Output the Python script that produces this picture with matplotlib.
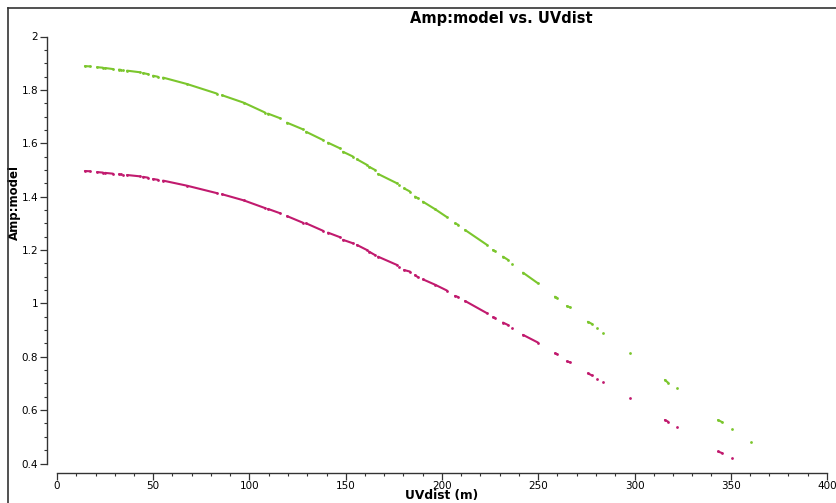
import numpy as np
import matplotlib
matplotlib.use("Agg")
from matplotlib import pyplot as plt
from matplotlib.lines import Line2D
from matplotlib.ticker import MultipleLocator, FuncFormatter

# uvdist segments (m) and model amplitudes
uv_segments = [
    [14.5, 17.1], [20.8, 23.9], [24.9, 29.1], [32.2, 33.2], [34.5],
    [36.4, 43.1], [44.7, 47.3], [49.9, 52.5], [55.1, 67.5, 83.1],
    [85.7, 97.0, 108.1], [109.6, 115.8], [119.5, 127.8], [129.4, 138.2],
    [140.8, 147.0], [148.6, 153.8], [155.8, 161.0], [162.1, 165.2],
    [166.8, 176.6], [177.7], [180.3, 183.4], [186.0, 187.5],
    [190.1, 196.4, 202.6], [206.8, 208.3], [212.0, 223.4], [226.5, 227.5],
    [231.7, 234.3], [236.6], [242.1, 249.9], [258.7, 259.7], [264.9, 266.5],
    [275.8, 277.9], [280.5], [283.6], [297.7], [315.8, 317.4], [322.1],
    [343.4, 345.5], [350.6], [360.5],
]

amp_green = [
    [1.889, 1.888], [1.885, 1.883], [1.882, 1.878], [1.876, 1.875], [1.874],
    [1.872, 1.866], [1.863, 1.859], [1.853, 1.849], [1.846, 1.822, 1.786],
    [1.780, 1.752, 1.715], [1.711, 1.694], [1.677, 1.652], [1.643, 1.612],
    [1.602, 1.581], [1.568, 1.550], [1.540, 1.519], [1.512, 1.500],
    [1.485, 1.450], [1.444], [1.431, 1.419], [1.400, 1.394],
    [1.381, 1.353, 1.323], [1.300, 1.295], [1.275, 1.219], [1.200, 1.196],
    [1.175, 1.163], [1.147], [1.115, 1.075], [1.025, 1.021], [0.990, 0.985],
    [0.931, 0.923], [0.906], [0.890], [0.813], [0.713, 0.703], [0.682],
    [0.563, 0.555], [0.529], [0.480],
]

amp_magenta = [
    [1.496, 1.495], [1.492, 1.490], [1.489, 1.486], [1.484, 1.483], [1.482],
    [1.481, 1.476], [1.474, 1.471], [1.466, 1.463], [1.460, 1.441, 1.413],
    [1.409, 1.386, 1.357], [1.354, 1.338], [1.327, 1.302], [1.300, 1.272],
    [1.265, 1.248], [1.238, 1.225], [1.219, 1.200], [1.194, 1.181],
    [1.175, 1.144], [1.135], [1.125, 1.119], [1.106, 1.098],
    [1.090, 1.070, 1.048], [1.028, 1.024], [1.009, 0.963], [0.948, 0.946],
    [0.928, 0.919], [0.907], [0.882, 0.853], [0.813, 0.810], [0.783, 0.779],
    [0.738, 0.730], [0.717], [0.704], [0.645], [0.563, 0.557], [0.538],
    [0.445, 0.439], [0.420], [np.nan],
]

green = "#7bc62d"
magenta = "#c11a6e"

fig = plt.figure(figsize=(8.36, 5.03), dpi=100)
ax = fig.add_axes([57 / 836, (503 - 463.5) / 503, 770 / 836, 427 / 503])

for xs, yg, ym in zip(uv_segments, amp_green, amp_magenta):
    ax.plot(xs, yg, "-", color=green, lw=1.5, marker="o", ms=2.0, mew=0,
            solid_capstyle="round")
    ax.plot(xs, ym, "-", color=magenta, lw=1.5, marker="o", ms=2.0, mew=0,
            solid_capstyle="round")

ax.set_xlim(0, 400)
ax.set_ylim(0.4, 2)

for s in ["top", "right"]:
    ax.spines[s].set_visible(False)
ax.spines["left"].set_position(("outward", 7))
ax.spines["bottom"].set_position(("outward", 7))
ax.spines["left"].set_bounds(0.4, 2)
ax.spines["bottom"].set_bounds(0, 400)
for s in ["left", "bottom"]:
    ax.spines[s].set_color("#333333")
    ax.spines[s].set_linewidth(1.0)

ax.xaxis.set_major_locator(MultipleLocator(50))
ax.xaxis.set_minor_locator(MultipleLocator(10))
ax.yaxis.set_major_locator(MultipleLocator(0.2))
ax.yaxis.set_minor_locator(MultipleLocator(0.05))
ax.yaxis.set_major_formatter(FuncFormatter(lambda v, p: ("%.1f" % v).rstrip("0").rstrip(".")))

ax.tick_params(axis="both", which="major", length=5, width=0.9, color="#333333", direction="out")
ax.tick_params(axis="both", which="minor", length=2.5, width=0.8, color="#333333", direction="out")
ax.tick_params(axis="y", which="major", labelsize=7.5, pad=1.5)
ax.tick_params(axis="x", which="major", labelsize=7.5, pad=0.5)

ax.set_xlabel("UVdist (m)", fontsize=8.8, fontweight="bold")
ax.xaxis.set_label_coords(0.5, -(496 - 463.5) / 427)
ax.xaxis.label.set_va("center")
ax.set_ylabel("Amp:model", fontsize=8.5, fontweight="bold")
ax.yaxis.set_label_coords(-36 / 770, (463.5 - 203) / 427)

fig.text(501 / 836, 1 - 18 / 503, "Amp:model vs. UVdist", fontsize=10.5,
         fontweight="bold", ha="center", va="center")

# window frame
fig.add_artist(Line2D([8 / 836, 1], [1 - 8 / 503, 1 - 8 / 503], transform=fig.transFigure,
                      color="#333333", lw=1.2))
fig.add_artist(Line2D([8 / 836, 8 / 836], [0, 1 - 8 / 503], transform=fig.transFigure,
                      color="#333333", lw=1.2))

fig.savefig("out.png", dpi=100)
